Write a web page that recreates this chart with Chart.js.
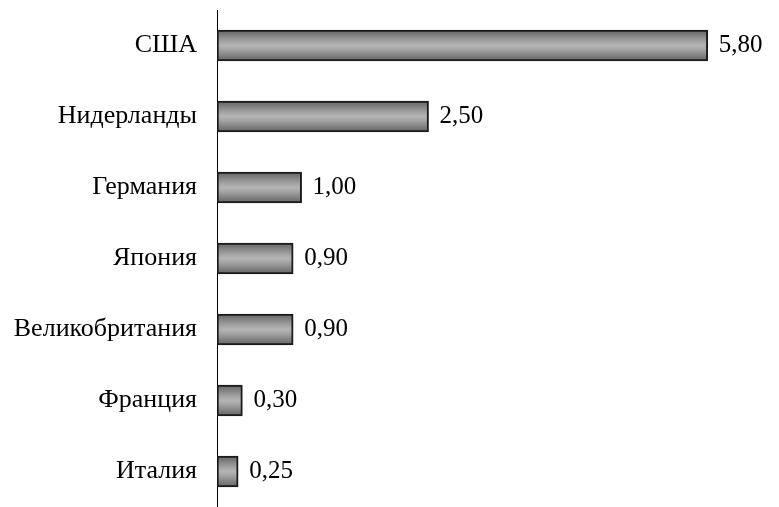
<!DOCTYPE html>
<html>
<head>
<meta charset="utf-8">
<script src="https://cdn.jsdelivr.net/npm/chart.js@4"></script>
<style>
    html, body { margin: 0; padding: 0; background: #fff; overflow: hidden; }
    #wrap { width: 779px; height: 507px; }
</style>
</head>
<body>
<div id="wrap"><canvas id="export-chart"></canvas></div>
<script>
// Countries and values
const countries = ['США', 'Нидерланды', 'Германия', 'Япония', 'Великобритания', 'Франция', 'Италия'];
const values = [5.80, 2.50, 1.00, 0.90, 0.90, 0.30, 0.25];

const FONT = '"Liberation Serif", "Times New Roman", serif';
const BAR_H = 31;

// Banded grey fill, dark on the edges and light in the middle
function barFill(context) {
    const chart = context.chart;
    const yScale = chart.scales.y;
    if (!yScale || !chart.chartArea) return '#999';
    const cy = yScale.getPixelForValue(context.dataIndex);
    const g = chart.ctx.createLinearGradient(0, cy - BAR_H / 2, 0, cy + BAR_H / 2);
    g.addColorStop(0, '#666');
    g.addColorStop(0.12, '#777');
    g.addColorStop(0.25, '#8f8f8f');
    g.addColorStop(0.4, '#a8a8a8');
    g.addColorStop(0.5, '#b4b4b4');
    g.addColorStop(0.6, '#a8a8a8');
    g.addColorStop(0.75, '#8f8f8f');
    g.addColorStop(0.88, '#777');
    g.addColorStop(1, '#666');
    return g;
}

// Values printed to the right of each bar
const valueLabels = {
    id: 'valueLabels',
    afterDatasetsDraw(chart) {
        const ctx = chart.ctx;
        const meta = chart.getDatasetMeta(0);
        ctx.save();
        ctx.font = '25px ' + FONT;
        ctx.fillStyle = '#000';
        ctx.textAlign = 'left';
        ctx.textBaseline = 'middle';
        meta.data.forEach((bar, i) => {
            ctx.fillText(values[i].toFixed(2).replace('.', ','), bar.x + 11, bar.y);
        });
        ctx.restore();
    }
};

const ctx = document.getElementById('export-chart');
new Chart(ctx, {
    type: 'bar',
    data: {
        labels: countries,
        datasets: [{
            data: values,
            backgroundColor: barFill,
            borderColor: '#1a1a1a',
            borderWidth: 2,
            borderSkipped: false,
            barThickness: BAR_H
        }]
    },
    options: {
        indexAxis: 'y',
        responsive: true,
        maintainAspectRatio: false,
        animation: false,
        layout: { padding: { top: 10, right: 12, bottom: 0, left: 0 } },
        plugins: {
            legend: { display: false },
            tooltip: { enabled: false }
        },
        scales: {
            x: {
                display: false,
                min: 0,
                max: 6.5
            },
            y: {
                afterFit(scale) {
                    scale.width = 217;
                    scale.paddingTop = 0;
                    scale.paddingBottom = 0;
                },
                grid: { display: true, drawOnChartArea: false, drawTicks: false },
                border: { display: true, color: '#000', width: 1 },
                ticks: {
                    color: '#000',
                    padding: 20,
                    font: { family: FONT, size: 26 }
                }
            }
        }
    },
    plugins: [valueLabels]
});
</script>
</body>
</html>
